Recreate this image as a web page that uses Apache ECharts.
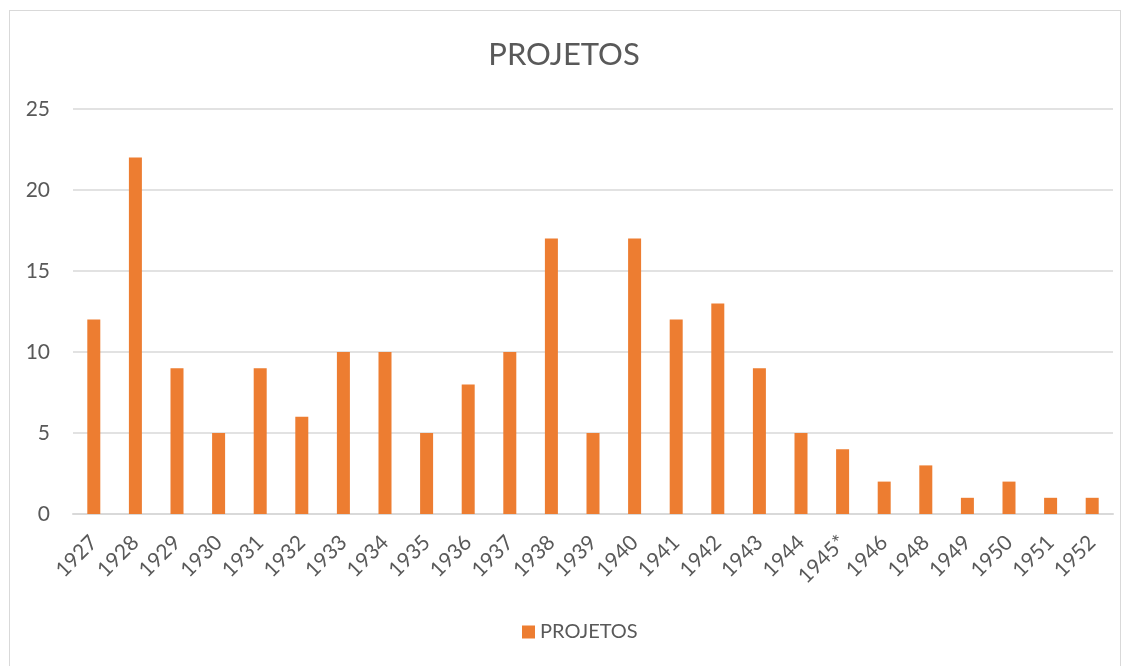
<!DOCTYPE html>
<html>
<head>
<meta charset="utf-8">
<script src="https://cdn.jsdelivr.net/npm/echarts@6/dist/echarts.min.js"></script>
<style>
  html, body { margin: 0; padding: 0; background: #fff; overflow: hidden; }
  #frame { position: absolute; left: 9px; top: 10px; width: 1110px; height: 700px; border: 1px solid #d9d9d9; }
  #chart { position: absolute; left: 0; top: 0; width: 1128px; height: 666px; }
</style>
</head>
<body>
<div id="frame"></div>
<div id="chart"></div>
<script>
const years = ['1927','1928','1929','1930','1931','1932','1933','1934','1935','1936','1937','1938','1939','1940','1941','1942','1943','1944','1945*','1946','1948','1949','1950','1951','1952'];
const projetos = [12,22,9,5,9,6,10,10,5,8,10,17,5,17,12,13,9,5,4,2,3,1,2,1,1];
const yTicks = [0, 25, 5]; // min, max, step

const font = 'Lato, "Noto Sans", sans-serif';
const chart = echarts.init(document.getElementById('chart'));
chart.setOption({
  animation: false,
  title: {
    text: 'PROJETOS',
    left: 'center',
    top: 34,
    textStyle: { fontFamily: font, fontSize: 31, fontWeight: 'normal', color: '#595959' }
  },
  legend: {
    bottom: 19,
    left: 517,
    itemWidth: 13,
    itemHeight: 13,
    icon: 'rect',
    itemGap: 6,
    textStyle: { fontFamily: font, fontSize: 20, color: '#595959' }
  },
  grid: { left: 73, right: 15, top: 109, bottom: 152 },
  xAxis: {
    type: 'category',
    data: years,
    axisTick: { show: false },
    axisLine: { lineStyle: { color: '#d9d9d9', width: 2 } },
    axisLabel: { rotate: 45, fontFamily: font, fontSize: 21, color: '#595959', margin: 25, interval: 0 }
  },
  yAxis: {
    type: 'value',
    min: yTicks[0],
    max: yTicks[1],
    interval: yTicks[2],
    axisLine: { show: false },
    axisTick: { show: false },
    splitLine: { lineStyle: { color: '#d9d9d9', width: 1.5 } },
    axisLabel: { fontFamily: font, fontSize: 21, color: '#595959', margin: 23 }
  },
  series: [{
    name: 'PROJETOS',
    type: 'bar',
    data: projetos,
    barWidth: 13,
    itemStyle: { color: '#ed7d31' }
  }]
});
</script>
</body>
</html>
